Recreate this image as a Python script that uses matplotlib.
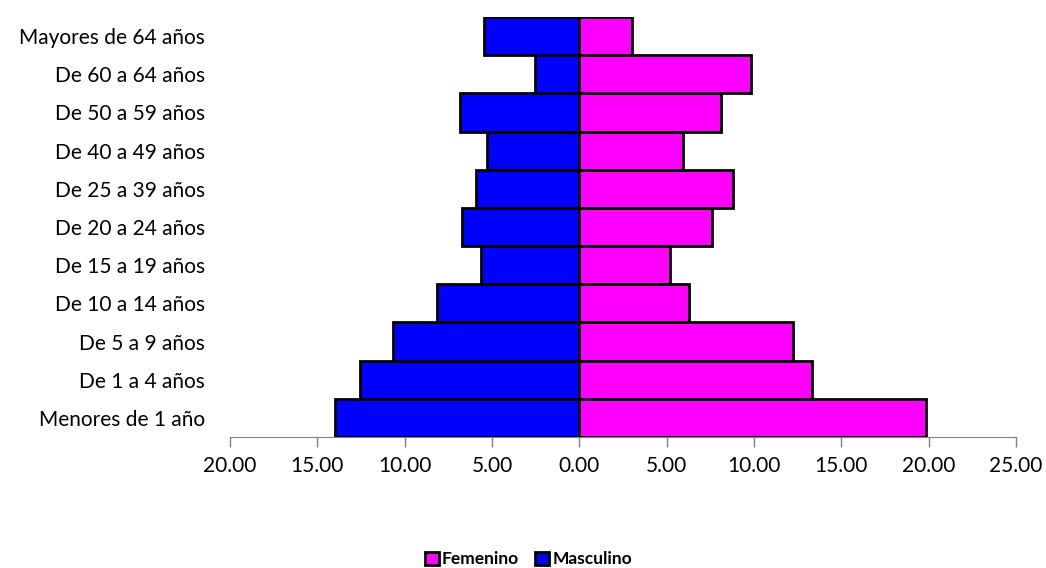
import numpy as np
import matplotlib.pyplot as plt
from matplotlib.ticker import FixedLocator

# Age groups, bottom to top
grupos = ['Menores de 1 año', 'De 1 a 4 años', 'De 5 a 9 años', 'De 10 a 14 años',
          'De 15 a 19 años', 'De 20 a 24 años', 'De 25 a 39 años', 'De 40 a 49 años',
          'De 50 a 59 años', 'De 60 a 64 años', 'Mayores de 64 años']
masculino = [14.02, 12.54, 10.70, 8.13, 5.61, 6.70, 5.95, 5.27, 6.81, 2.52, 5.44]
femenino = [19.86, 13.34, 12.25, 6.30, 5.21, 7.61, 8.81, 5.95, 8.13, 9.85, 3.03]
ticks = [-20, -15, -10, -5, 0, 5, 10, 15, 20, 25]

plt.rcParams['font.family'] = ['Lato', 'DejaVu Sans']

fig = plt.figure(figsize=(10.46, 5.68), dpi=100)
ax = fig.add_axes([0.22, 0.2306, 0.7514, 0.7394])

y = np.arange(len(grupos))
ax.barh(y, -np.array(masculino), height=1.0, color='#0000FF', edgecolor='black',
        linewidth=2, label='Masculino')
ax.barh(y, femenino, height=1.0, color='#FF00FF', edgecolor='black',
        linewidth=2, label='Femenino')

ax.set_xlim(-20, 25)
ax.set_ylim(-0.5, len(grupos) - 0.5)
ax.xaxis.set_major_locator(FixedLocator(ticks))
ax.set_xticklabels([f'{abs(t):.2f}' for t in ticks], fontsize=15)
ax.set_yticks(y)
ax.set_yticklabels(grupos, fontsize=15)
ax.tick_params(axis='y', length=0, pad=18)
ax.tick_params(axis='x', length=7, width=1, color='#808080', pad=7)

for s in ['top', 'right', 'left']:
    ax.spines[s].set_visible(False)
ax.spines['bottom'].set_color('#808080')

handles, labels = ax.get_legend_handles_labels()
leg = fig.legend(handles[::-1], labels[::-1], loc='center', bbox_to_anchor=(0.505, 0.015),
                 ncol=2, frameon=False, prop={'weight': 'bold', 'size': 12.5},
                 handlelength=0.8, handleheight=0.8, handletextpad=0.2, columnspacing=0.9)

fig.savefig('out.png', dpi=100)
